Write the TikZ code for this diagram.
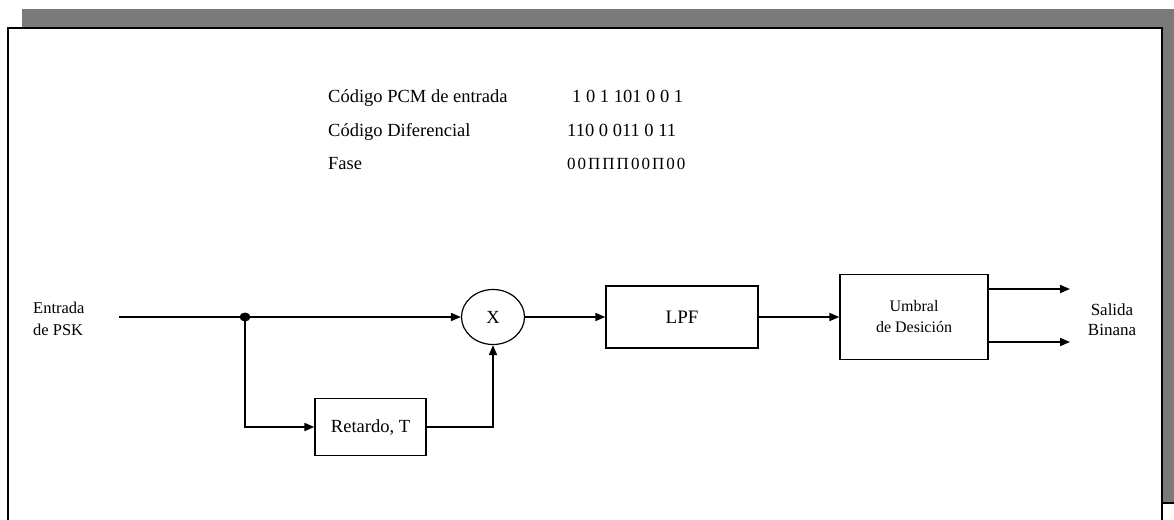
\documentclass[tikz,border=0pt]{standalone}
\usepackage{fontspec}
\setmainfont{Liberation Serif}
\usetikzlibrary{arrows.meta,shapes.geometric}
\definecolor{shadowgray}{gray}{0.48}
\newcommand\topfont{\fontsize{18.5}{22}\selectfont}
\newcommand\lblfont{\fontsize{16.5}{22}\selectfont}
\begin{document}
\begin{tikzpicture}[x=1pt,y=-1pt,
  conn/.style={line width=1.7pt},
  arr/.style={line width=1.7pt,-{Triangle[length=10pt,width=8pt]}},
  blockbox/.style={draw,line width=1.3pt,inner sep=0pt,font=\lblfont,align=center},
  toptext/.style={anchor=base west,inner sep=0pt,font=\topfont},
  lbl/.style={inner sep=0pt,font=\lblfont}]
\useasboundingbox (0,0) rectangle (1174,519);
\clip (0,0) rectangle (1174,519);
% shadow and frame
\fill[shadowgray] (22,9) rectangle (1174,503);
\draw[line width=1.2pt] (1162,503) -- (1174,503);
\draw[line width=2pt,fill=white] (7.5,28.5) rectangle (1162,560);
% top table
\node[toptext] (pcm) at (328,102) {Código PCM de entrada};
\node[toptext] (pcmbits) at (572,102) {1 0 1 101 0 0 1};
\node[toptext] (dif) at (328,136) {Código Diferencial};
\node[toptext] (difbits) at (567,136) {110 0 011 0 11};
\node[toptext] (fase) at (328,169) {Fase};
\node[toptext,font=\fontsize{17}{22}\selectfont] (fasebits) at (567,169) {\spaceskip=2pt\relax 0 0 Π Π Π 0 0 Π 0 0};
% block diagram
\node[lbl,align=left,anchor=west] (entrada) at (33,319) {Entrada\\de PSK};
\coordinate (inS) at (119,317);
\coordinate (j) at (245,317);
\node[draw,ellipse,line width=1.2pt,minimum width=63pt,minimum height=55pt,inner sep=0pt,font=\topfont] (mult) at (493,317) {X};
\node[blockbox,font=\fontsize{18.5}{22}\selectfont,minimum width=111pt,minimum height=57pt] (ret) at (370.5,427) {Retardo, T};
\node[blockbox,font=\fontsize{19}{22}\selectfont,minimum width=152pt,minimum height=62pt] (lpf) at (682,317) {LPF};
\node[blockbox,font=\fontsize{16}{21}\selectfont,minimum width=148pt,minimum height=85pt] (umb) at (914,317) {Umbral\\de Desición};
\coordinate (o1) at (1070,289);
\coordinate (o2) at (1070,342);
\node[lbl,align=center,font=\fontsize{17}{20}\selectfont] (salida) at (1112,320) {Salida\\Binana};
\draw[conn] (inS) -- (j);
\fill (j) ellipse (5.5pt and 4.5pt);
\draw[arr] (j) -- (mult.west);
\draw[arr] (j) |- (ret.west);
\draw[arr] (ret.east) -| (mult.south);
\draw[arr] (mult.east) -- (lpf.west);
\draw[arr] (lpf.east) -- (umb.west);
\draw[arr] (umb.east |- o1) -- (o1);
\draw[arr] (umb.east |- o2) -- (o2);
\end{tikzpicture}
\end{document}
